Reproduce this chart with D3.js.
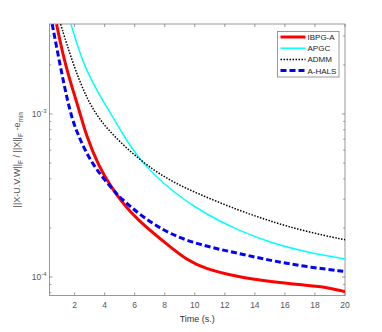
<!DOCTYPE html>
<html>
<head>
<meta charset="utf-8">
<script src="https://cdn.jsdelivr.net/npm/d3@7"></script>
<style>
  body { margin: 0; background: #fff; }
  text { font-family: "Liberation Sans", Arial, sans-serif; }
</style>
</head>
<body>
<script>
// data (time in s., relative error)
var ibpgT = [0.80, 1.36, 2.36, 2.72, 3.6, 4.5, 5.05, 6.05, 8.39, 9.5, 10.6, 12.84, 15.07, 17.29, 18.6, 20]
var ibpgV = [3.55e-3, 2.0e-3, 1.02e-3, 7.62e-4, 4.75e-4, 3.5e-4, 2.96e-4, 2.29e-4, 1.52e-4, 1.27e-4, 1.13e-4, 1.0e-4, 9.35e-5, 8.93e-5, 8.71e-5, 8.13e-5]

var apgcT = [1.76, 2.58, 3.6, 4.37, 5.05, 6.28, 8.39, 10.6, 12.84, 15.07, 17.29, 20]
var apgcV = [3.55e-3, 2.0e-3, 1.33e-3, 1.02e-3, 7.94e-4, 5.22e-4, 3.39e-4, 2.46e-4, 1.94e-4, 1.62e-4, 1.43e-4, 1.29e-4]

var admmT = [1.07, 1.91, 2.83, 3.94, 6.28, 8.39, 10.6, 12.84, 15.07, 17.29, 20]
var admmV = [3.55e-3, 2.0e-3, 1.22e-3, 8.36e-4, 5.22e-4, 3.85e-4, 3.13e-4, 2.58e-4, 2.19e-4, 1.91e-4, 1.69e-4]

var halsT = [0.51, 1.03, 1.70, 2.27, 3.16, 4.5, 5.05, 6.5, 8.39, 10.6, 12.84, 15.07, 17.29, 20]
var halsV = [3.55e-3, 2.0e-3, 1.0e-3, 7.24e-4, 4.9e-4, 3.47e-4, 3.05e-4, 2.34e-4, 1.81e-4, 1.55e-4, 1.40e-4, 1.26e-4, 1.16e-4, 1.08e-4]

var xTicks = [2, 4, 6, 8, 10, 12, 14, 16, 18, 20]
var yMajor = [-3, -4]

var series = [
    {name: "IBPG-A", t: ibpgT, v: ibpgV, color: "#ff0000", width: 3, dash: null},
    {name: "APGC", t: apgcT, v: apgcV, color: "#00ffff", width: 1.5, dash: null},
    {name: "ADMM", t: admmT, v: admmV, color: "#000000", width: 1.5, dash: "1.5,1.5"},
    {name: "A-HALS", t: halsT, v: halsV, color: "#0000ff", width: 3, dash: "6,3"}
]

var W = 382, H = 332
var margin = {top: 24, right: 37, bottom: 36.5, left: 49.5}
var width = W - margin.left - margin.right,
    height = H - margin.top - margin.bottom

var svg = d3.select("body").append("svg")
    .attr("width", W)
    .attr("height", H)

var g = svg.append("g")
    .attr("transform", "translate(" + margin.left + "," + margin.top + ")")

var x = d3.scaleLinear().domain([0.33, 20]).range([0, width])
var y = d3.scaleLog().domain([7.7e-5, 3.56e-3]).range([height, 0])

var axisColor = "#7f7f7f", textColor = "#555"

svg.append("defs").append("clipPath").attr("id", "clip")
    .append("rect").attr("width", width).attr("height", height)

// log minor ticks
var minor = []
for (var e = -5; e <= -3; e++) {
    for (var k = 1; k <= 9; k++) {
        var val = k * Math.pow(10, e)
        if (val >= y.domain()[0] && val <= y.domain()[1]) minor.push(val)
    }
}

var box = g.append("g").attr("class", "box")

// x ticks bottom + top, pointing in
xTicks.forEach(function (t) {
    box.append("line").attr("x1", x(t)).attr("x2", x(t)).attr("y1", height).attr("y2", height - 3)
        .attr("stroke", axisColor).attr("stroke-width", 0.8)
    box.append("line").attr("x1", x(t)).attr("x2", x(t)).attr("y1", 0).attr("y2", 3)
        .attr("stroke", axisColor).attr("stroke-width", 0.8)
    g.append("text").attr("x", x(t)).attr("y", height + 12)
        .attr("text-anchor", "middle").attr("font-size", 8.5).attr("fill", textColor)
        .text(t)
})

minor.forEach(function (v) {
    var major = Math.abs(Math.log10(v) - Math.round(Math.log10(v))) < 1e-9
    var len = major ? 3 : 1.8
    box.append("line").attr("x1", 0).attr("x2", len).attr("y1", y(v)).attr("y2", y(v))
        .attr("stroke", axisColor).attr("stroke-width", 0.8)
    box.append("line").attr("x1", width).attr("x2", width - len).attr("y1", y(v)).attr("y2", y(v))
        .attr("stroke", axisColor).attr("stroke-width", 0.8)
})

yMajor.forEach(function (p) {
    var tx = g.append("text").attr("x", -3).attr("y", y(Math.pow(10, p)) + 3)
        .attr("text-anchor", "end").attr("font-size", 8.5).attr("fill", textColor)
    tx.append("tspan").text("10")
    tx.append("tspan").attr("dy", -4).attr("font-size", 6).text(p)
})

// lines (basis spline smooths out reading noise)
var line = d3.line()
    .x(function (d) { return x(d[0]) })
    .y(function (d) { return y(d[1]) })
    .curve(d3.curveBasis)

var plot = g.append("g").attr("clip-path", "url(#clip)")
series.forEach(function (s) {
    var pts = s.t.map(function (t, i) { return [t, s.v[i]] })
    plot.append("path").datum(pts)
        .attr("d", line)
        .attr("fill", "none")
        .attr("stroke", s.color)
        .attr("stroke-width", s.width)
        .attr("stroke-dasharray", s.dash)
})

box.append("rect").attr("width", width).attr("height", height)
    .attr("fill", "none").attr("stroke", axisColor).attr("stroke-width", 0.8)

// axis labels
g.append("text").attr("x", width / 2).attr("y", height + 26)
    .attr("text-anchor", "middle").attr("font-size", 9).attr("fill", "#333")
    .text("Time (s.)")

var yl = svg.append("text")
    .attr("transform", "translate(20," + (margin.top + height / 2) + ") rotate(-90)")
    .attr("text-anchor", "middle").attr("font-size", 9).attr("fill", "#555")
yl.append("tspan").text("||X-U.V.W||")
yl.append("tspan").attr("dy", 3).attr("font-size", 6.5).text("F")
yl.append("tspan").attr("dy", -3).text(" / ||X||")
yl.append("tspan").attr("dy", 3).attr("font-size", 6.5).text("F")
yl.append("tspan").attr("dy", -3).text(" -e")
yl.append("tspan").attr("dy", 3).attr("font-size", 6.5).text("min")

// legend
var leg = svg.append("g").attr("transform", "translate(277.5,31.5)")
leg.append("rect").attr("width", 61.5).attr("height", 45.5)
    .attr("fill", "#fff").attr("stroke", axisColor).attr("stroke-width", 0.8)
series.forEach(function (s, i) {
    var yy = 5.5 + i * 11.2
    leg.append("line").attr("x1", 3).attr("x2", 28).attr("y1", yy).attr("y2", yy)
        .attr("stroke", s.color).attr("stroke-width", s.width)
        .attr("stroke-dasharray", s.dash)
    leg.append("text").attr("x", 30).attr("y", yy + 3)
        .attr("font-size", 8).attr("fill", "#222").text(s.name)
})
</script>
</body>
</html>
